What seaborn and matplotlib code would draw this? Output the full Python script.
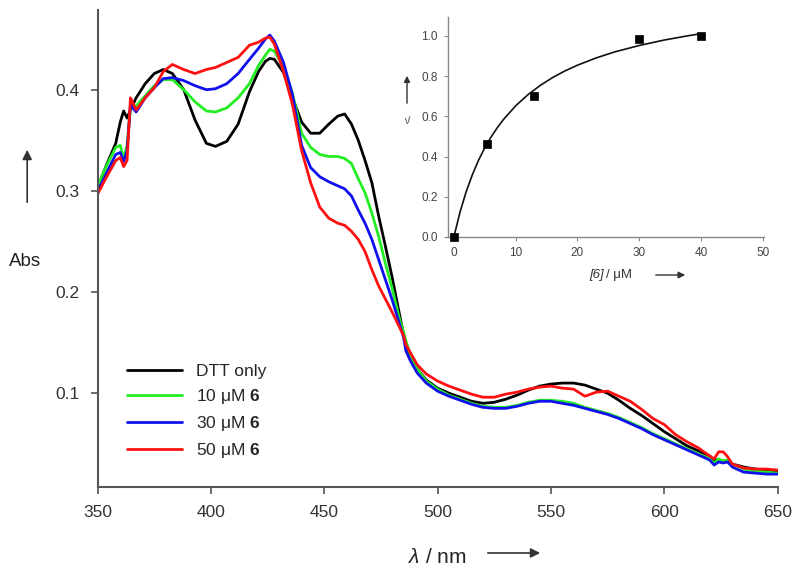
import matplotlib
matplotlib.use("Agg")
import matplotlib.pyplot as plt
import numpy as np
import pandas as pd
import seaborn as sns

# wavelength grid (nm) and absorbance of the four spectra
wavelength = [350, 354, 358, 360, 361.5, 363, 364.5, 367, 371, 375, 379, 383, 388, 393, 398,
              402, 407, 412, 417, 421, 424, 426, 428, 432, 436, 440, 444, 448, 452, 456,
              459, 462, 465, 468, 471, 474, 477, 480, 483, 485, 486, 488, 491, 495, 500,
              505, 510, 515, 520, 525, 530, 535, 540, 545, 550, 555, 560, 565, 570, 575,
              580, 585, 590, 595, 600, 605, 610, 615, 620, 622, 624, 626, 628, 630, 635,
              640, 645, 650]

abs_dtt = [0.303, 0.326, 0.347, 0.368, 0.379, 0.372, 0.380, 0.392, 0.406, 0.416, 0.420, 0.416, 0.400, 0.370, 0.347,
           0.344, 0.349, 0.366, 0.398, 0.418, 0.428, 0.431, 0.430, 0.417, 0.392, 0.368, 0.357, 0.357, 0.366, 0.374,
           0.376, 0.366, 0.350, 0.330, 0.308, 0.275, 0.245, 0.214, 0.180, 0.158, 0.150, 0.136, 0.124, 0.113, 0.105,
           0.100, 0.096, 0.092, 0.090, 0.091, 0.094, 0.098, 0.103, 0.107, 0.109, 0.110, 0.110, 0.108, 0.104, 0.100,
           0.093, 0.085, 0.078, 0.070, 0.062, 0.055, 0.048, 0.043, 0.038, 0.034, 0.034, 0.033, 0.032, 0.030, 0.027,
           0.025, 0.024, 0.023]

abs_10 = [0.305, 0.325, 0.343, 0.345, 0.332, 0.345, 0.382, 0.384, 0.394, 0.404, 0.410, 0.410, 0.400, 0.388, 0.379,
          0.378, 0.382, 0.392, 0.406, 0.424, 0.434, 0.440, 0.438, 0.423, 0.396, 0.357, 0.343, 0.336, 0.334, 0.334,
          0.332, 0.327, 0.312, 0.298, 0.278, 0.255, 0.228, 0.203, 0.175, 0.160, 0.152, 0.138, 0.124, 0.112, 0.104,
          0.098, 0.094, 0.090, 0.087, 0.086, 0.086, 0.088, 0.091, 0.093, 0.093, 0.092, 0.090, 0.086, 0.083, 0.080,
          0.076, 0.071, 0.066, 0.060, 0.055, 0.050, 0.045, 0.040, 0.035, 0.031, 0.035, 0.033, 0.034, 0.030, 0.025,
          0.023, 0.022, 0.021]

abs_30 = [0.299, 0.318, 0.336, 0.338, 0.329, 0.340, 0.385, 0.378, 0.392, 0.402, 0.411, 0.412, 0.409, 0.404, 0.400,
          0.401, 0.406, 0.416, 0.430, 0.441, 0.450, 0.454, 0.448, 0.427, 0.395, 0.345, 0.323, 0.314, 0.309, 0.305,
          0.302, 0.295, 0.281, 0.268, 0.252, 0.232, 0.212, 0.192, 0.170, 0.155, 0.142, 0.132, 0.120, 0.110, 0.102,
          0.097, 0.093, 0.089, 0.086, 0.085, 0.085, 0.087, 0.090, 0.092, 0.092, 0.090, 0.088, 0.085, 0.082, 0.079,
          0.075, 0.070, 0.065, 0.059, 0.054, 0.049, 0.044, 0.039, 0.034, 0.029, 0.032, 0.031, 0.032, 0.027, 0.022,
          0.021, 0.020, 0.020]

abs_50 = [0.297, 0.314, 0.330, 0.333, 0.324, 0.330, 0.392, 0.380, 0.392, 0.402, 0.418, 0.425, 0.420, 0.416, 0.420,
          0.422, 0.427, 0.432, 0.444, 0.447, 0.451, 0.452, 0.445, 0.418, 0.385, 0.340, 0.308, 0.284, 0.273, 0.268,
          0.266, 0.260, 0.252, 0.240, 0.222, 0.206, 0.193, 0.180, 0.166, 0.157, 0.148, 0.140, 0.128, 0.119, 0.112,
          0.107, 0.103, 0.099, 0.096, 0.096, 0.099, 0.101, 0.104, 0.106, 0.107, 0.105, 0.104, 0.097, 0.101, 0.102,
          0.097, 0.092, 0.084, 0.075, 0.069, 0.059, 0.052, 0.046, 0.038, 0.035, 0.042, 0.042, 0.037, 0.030, 0.026,
          0.025, 0.025, 0.024]

series_labels = ["DTT only", r"10 μM $\mathbf{6}$", r"30 μM $\mathbf{6}$", r"50 μM $\mathbf{6}$"]
series_colors = ["#000000", "#22ee22", "#1010ee", "#ff1010"]

# inset: binding data and fitted curve
conc = [0, 5.3, 13, 30, 40]
nu = [0.0, 0.46, 0.70, 0.985, 1.0]
fit_conc = [0, 1, 2, 3, 4, 5, 6, 7, 8, 10, 12, 14, 16, 18, 20, 23, 26, 30, 34, 38, 40]
fit_nu = [0.0, 0.124, 0.226, 0.310, 0.382, 0.443, 0.496, 0.542, 0.583, 0.652, 0.708, 0.754,
          0.793, 0.826, 0.854, 0.890, 0.920, 0.952, 0.979, 1.001, 1.011]

sns.set_style("ticks")
plt.rcParams["font.family"] = ["Liberation Sans", "DejaVu Sans"]
plt.rcParams["mathtext.fontset"] = "custom"
plt.rcParams["mathtext.bf"] = "Liberation Sans:bold"
plt.rcParams["mathtext.it"] = "Liberation Sans:italic"
plt.rcParams["mathtext.rm"] = "Liberation Sans"

fig = plt.figure(figsize=(8, 5.78), dpi=100)
ax = fig.add_axes([0.122, 0.157, 0.850, 0.826])

for vals, lab, col in zip([abs_dtt, abs_10, abs_30, abs_50], series_labels, series_colors):
    df = pd.DataFrame({"wl": wavelength, "A": vals})
    sns.lineplot(data=df, x="wl", y="A", color=col, label=lab, linewidth=2, ax=ax)

ax.set_xlim(350, 650)
ax.set_ylim(0.007, 0.479)
ax.set_xticks([350, 400, 450, 500, 550, 600, 650])
ax.set_yticks([0.1, 0.2, 0.3, 0.4])
ax.set_yticklabels(["0.1", "0.2", "0.3", "0.4"])
ax.set_xlabel("")
ax.set_ylabel("")
sns.despine(ax=ax)
for sp in ["left", "bottom"]:
    ax.spines[sp].set_color("#555555")
    ax.spines[sp].set_linewidth(1.5)
ax.tick_params(axis="both", direction="out", length=5, width=1.2, color="#555555",
               labelsize=12.5, labelcolor="#333333", pad=8)

leg = ax.legend(loc="lower left", bbox_to_anchor=(0.02, 0.025), frameon=False, fontsize=12.5,
                handlelength=3.2, handletextpad=0.8, labelspacing=0.45)

# axis labels with arrows, placed in figure coordinates
fig.text(0.031, 0.547, "Abs", fontsize=13.5, ha="center", va="center", color="#222222")
fig.add_artist(matplotlib.patches.FancyArrowPatch((0.034, 1 - 205 / 578), (0.034, 1 - 147 / 578),
                                                  transform=fig.transFigure, arrowstyle="-|>",
                                                  mutation_scale=14, color="#333333", lw=1.2))
fig.text(0.546, 0.035, r"$\mathit{\lambda}$ / nm", fontsize=15, ha="center", va="center", color="#222222")
fig.add_artist(matplotlib.patches.FancyArrowPatch((485 / 800, 1 - 553 / 578), (543 / 800, 1 - 553 / 578),
                                                  transform=fig.transFigure, arrowstyle="-|>",
                                                  mutation_scale=14, color="#333333", lw=1.2))

# inset
ins = fig.add_axes([0.5596, 0.590, 0.3954, 0.381])
sns.lineplot(x=fit_conc, y=fit_nu, color="#111111", linewidth=1.2, ax=ins)
sns.scatterplot(x=conc, y=nu, marker="s", s=40, color="black", edgecolor="black", ax=ins,
                zorder=5, clip_on=False)
ins.set_xlim(-1, 50.2)
ins.set_ylim(0, 1.095)
ins.set_xticks([0, 10, 20, 30, 40, 50])
ins.set_yticks([0.0, 0.2, 0.4, 0.6, 0.8, 1.0])
ins.set_yticklabels(["0.0", "0.2", "0.4", "0.6", "0.8", "1.0"])
sns.despine(ax=ins)
for sp in ["left", "bottom"]:
    ins.spines[sp].set_color("#888888")
    ins.spines[sp].set_linewidth(1.0)
ins.tick_params(axis="both", direction="out", length=3, width=0.8, color="#888888",
                labelsize=8.5, labelcolor="#444444", pad=4)
ins.set_facecolor("none")

fig.text(407 / 800, 1 - 121 / 578, "ν'", fontsize=7, ha="center", va="center", color="#444444")
fig.add_artist(matplotlib.patches.FancyArrowPatch((407 / 800, 1 - 106 / 578), (407 / 800, 1 - 73 / 578),
                                                  transform=fig.transFigure, arrowstyle="-|>",
                                                  mutation_scale=9, color="#333333", lw=1.0))
fig.text(604 / 800, 1 - 275 / 578, "[6]", fontsize=9.5, fontstyle="italic", ha="right", va="center",
         color="#333333")
fig.text(606 / 800, 1 - 275 / 578, "/ μM", fontsize=9.5, ha="left", va="center", color="#333333")
fig.add_artist(matplotlib.patches.FancyArrowPatch((653 / 800, 1 - 275 / 578), (688 / 800, 1 - 275 / 578),
                                                  transform=fig.transFigure, arrowstyle="-|>",
                                                  mutation_scale=10, color="#333333", lw=1.0))

fig.savefig("out.png", dpi=100)
